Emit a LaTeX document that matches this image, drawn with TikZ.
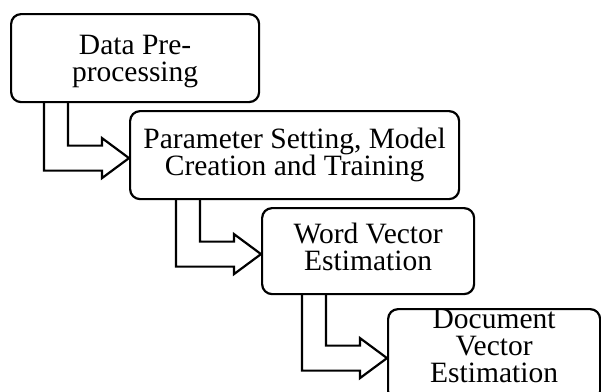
\documentclass[tikz,border=0pt]{standalone}
\usepackage{fontspec}
\setmainfont{Liberation Serif}
\usetikzlibrary{calc}

% hollow block arrow from the bottom of #1 into the left side of #2
\newcommand\steparrow[2]{%
  \coordinate (tip) at ([yshift=-3pt]#2.west);
  \draw[hollow] ([xshift=-85pt]tip |- #1.south) -- ([shift={(-85pt,-12.5pt)}]tip)
    -- ([shift={(-27pt,-12.5pt)}]tip) -- ([shift={(-27pt,-20pt)}]tip) -- (tip)
    -- ([shift={(-27pt,20pt)}]tip) -- ([shift={(-27pt,12.5pt)}]tip)
    -- ([shift={(-61pt,12.5pt)}]tip) -- ([xshift=-61pt]tip |- #1.south);}

\begin{document}
\begin{tikzpicture}[x=1pt,y=-1pt,
    box/.style={draw,rounded corners=10pt,line width=2.2pt,anchor=north west,inner sep=0pt},
    lbl/.style={align=center,inner sep=0pt,font=\fontsize{29.5pt}{27pt}\selectfont},
    hollow/.style={line width=2.2pt,line join=miter}]
    \useasboundingbox (0,0) rectangle (601,391);
    \clip (0,0) rectangle (601,391);
    \node[box,minimum width=248pt,minimum height=88pt] (pre) at (10,13) {};
    \node[box,minimum width=329pt,minimum height=88pt] (train) at (129,110) {};
    \node[box,minimum width=212pt,minimum height=86pt] (word) at (261,207) {};
    \node[box,minimum width=212pt,minimum height=92pt] (doc) at (387,308) {};
    \node[lbl] (pretxt) at ([yshift=-3pt]pre.center) {Data Pre-\\processing};
    \node[lbl] (traintxt) at (train.center) {Parameter Setting, Model\\Creation and Training};
    \node[lbl] (wordtxt) at ([yshift=4pt]word.center) {Word Vector\\Estimation};
    \node[lbl] (doctxt) at ([yshift=9pt]doc.center) {Document\\Vector\\Estimation};
    \steparrow{pre}{train}
    \steparrow{train}{word}
    \steparrow{word}{doc}
  \end{tikzpicture}
\end{document}
